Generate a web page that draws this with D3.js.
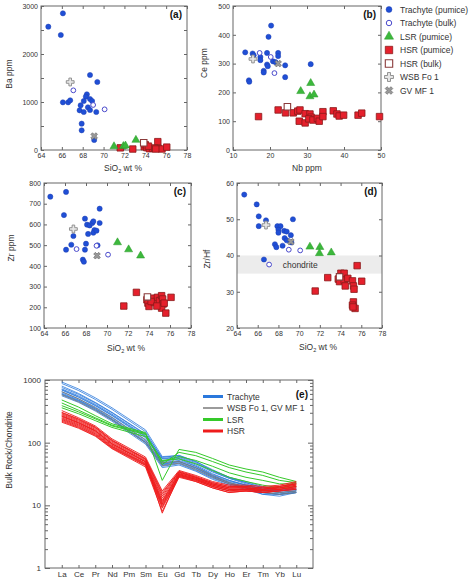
<!DOCTYPE html>
<html><head><meta charset="utf-8">
<script src="https://cdn.jsdelivr.net/npm/d3@7"></script>
<style>body{margin:0;background:#fff}svg{display:block;font-family:"Liberation Sans",Arial,sans-serif}</style>
</head><body><svg id="c" width="474" height="581"></svg>
<script>
// ---------- Panel (a): Ba vs SiO2 ----------
const aTrachytePumice = [[64.7,2569],[66.1,2847],[65.9,2396],[68.7,1563],[69.4,1417],[66.1,993],[66.6,993],[66.8,1035],[68.4,1160],[68.3,1111],[68.1,1021],[68.7,1063],[68.9,1021],[67.8,931],[67.7,826],[68.1,792],[68.5,889],[68.7,833],[69.3,792],[67.9,549],[67.9,410],[69.1,208]];
const aTrachyteBulk = [[67.1,1243],[69.0,938],[70.1,847]];
const aLSR = [[71.0,75],[71.9,80],[72.1,90],[73.1,208]];
const aHSR = [[71.6,45],[72.8,20],[73.9,69],[74.0,110],[74.15,49],[74.4,27],[74.7,35],[75.2,174],[75.25,35],[75.6,21],[76.06,60],[74.9,40],[75.0,20],[74.3,80]];
const aHSRBulk = [[73.85,150]];
const aWSB = [[66.8,1417]];
const aGV = [[69.1,290]];

// ---------- Panel (b): Ce vs Nb ----------
const bTrachytePumice = [[13.3,339],[15.3,335],[15.6,329],[14.3,242],[14.4,237],[17.4,323],[17.4,312],[18.3,275],[18.3,269],[19.2,337],[19.2,297],[19.4,291],[19.6,393],[20.3,432],[20.8,308],[21.5,305],[22.2,337],[22.2,326],[24.1,294],[24.1,253],[31.0,298]];
const bTrachyteBulk = [[17.2,337],[20.2,323],[21.2,267]];
const bLSR = [[28.3,204],[31.0,232],[30.8,186],[31.9,192]];
const bHSR = [[16.9,116],[22.2,139],[24.2,129],[26.3,129],[27.5,135],[28.1,139],[27.9,100],[29.5,126],[29.5,94],[30.8,125],[31.1,114],[30.5,108],[31.6,104],[32.8,110],[33.3,100],[34.3,133],[34.3,116],[37.1,136],[38.1,125],[38.7,118],[39.9,121],[43.8,121],[44.8,128],[49.6,116]];
const bHSRBulk = [[24.7,150]];
const bWSB = [[15.4,316]];
const bGV = [[22.2,300]];

// ---------- Panel (c): Zr vs SiO2 ----------
const cTrachytePumice = [[64.6,734],[66.1,757],[65.9,645],[66.1,478],[66.6,502],[66.8,544],[67.9,628],[68.1,599],[68.35,595],[68.6,607],[68.7,615],[68.8,573],[68.7,560],[69.0,570],[68.2,554],[68.0,507],[67.9,478],[67.7,430],[67.8,420],[69.3,676],[69.3,607],[69.1,499]];
const cTrachyteBulk = [[67.1,481],[69.0,497],[70.1,454]];
const cLSR = [[71.0,513],[72.06,479],[73.2,449]];
const cHSR = [[71.6,206],[72.8,272],[73.8,236],[73.9,220],[74.0,204],[74.3,244],[74.5,223],[74.8,248],[75.0,232],[75.2,256],[75.3,240],[75.35,216],[75.2,196],[75.45,220],[75.6,172],[76.1,248],[74.2,228],[74.75,206]];
const cHSRBulk = [[73.85,250]];
const cWSB = [[66.8,578]];
const cGV = [[69.05,449]];

// ---------- Panel (d): Zr/Hf vs SiO2 ----------
const dTrachytePumice = [[64.7,56.8],[65.9,54.1],[66.1,50.8],[66.1,48.1],[66.8,49.7],[67.9,48.1],[68.2,48.1],[68.0,47.1],[68.0,46.3],[68.55,46.8],[68.8,46.6],[69.2,45.6],[69.4,50.0],[68.6,44.8],[68.8,44.2],[69.25,43.6],[67.66,43.1],[67.8,42.3],[68.4,42.7],[66.6,38.9]];
const dTrachyteBulk = [[67.1,37.5],[69.0,41.6],[70.1,41.4]];
const dLSR = [[71.04,42.4],[72.0,42.3],[71.96,40.6],[73.1,40.8]];
const dHSR = [[71.55,30.2],[72.76,33.9],[73.78,33.5],[74.03,35.1],[74.35,35.1],[73.9,32.8],[74.35,33.2],[74.7,33.7],[74.45,31.6],[75.15,33.0],[75.24,31.6],[75.3,30.7],[75.6,37.2],[76.04,32.9],[75.24,27.2],[75.15,26.3],[75.4,25.4],[75.2,25.8]];
const dHSRBulk = [[73.9,34.1]];
const dWSB = [[66.8,48.4]];
const dGV = [[69.2,43.8]];
const chondriteBand = [35, 40];

// ---------- Panel (e): REE patterns ----------
const reeElements = ["La","Ce","Pr","Nd","Pm","Sm","Eu","Gd","Tb","Dy","Ho","Er","Tm","Yb","Lu"];
const reeTrachyte = [
  [930,720,520,360,null,160,60,62,50,36,28,24,20,18,18],
  [880,680,490,340,null,150,55,58,46,34,27,23,19,17,18],
  [800,610,440,305,null,138,58,63,50,37,28,23,19,17,18],
  [760,590,430,300,null,135,52,56,44,32,25,21,18,16,17],
  [720,560,410,285,null,128,48,52,42,30,24,21,17,16,17],
  [700,540,395,275,null,125,56,60,48,35,27,22,18,17,19],
  [690,530,390,270,null,120,50,55,42,31,25,21,18,17,18],
  [650,500,370,255,null,112,45,50,40,29,23,20,16,15,17],
  [620,480,350,240,null,105,44,48,38,28,22,19,16,15,16],
  [600,470,345,235,null,102,46,50,39,29,23,19,16,15,16],
  [590,460,335,230,null,100,42,46,36,27,22,19,15,15,16],
  [560,440,320,220,null,95,40,44,35,26,21,18,15,14,16]
];
const reeGrey = [
  [650,500,360,250,null,110,48,50,40,30,23,20,17,16,17],
  [580,450,330,230,null,100,43,47,37,28,22,19,16,15,16]
];
const reeLSR = [
  [480,370,270,200,null,145,25,78,70,56,44,38,34,28,24],
  [430,330,250,190,null,140,45,70,62,50,40,34,30,25,23],
  [390,310,240,185,null,135,50,60,52,42,33,28,25,22,22],
  [360,290,225,175,null,125,52,55,46,36,28,24,21,19,20]
];
const reeHSR = [
  [325,250,185,115,null,59,17,36,30,24,21,21,20,21,24],
  [305,240,178,110,null,56,15,35,29,23,20,20,19,20,23],
  [300,235,175,108,null,55,16,34,28,22,19,19,18,20,22],
  [290,228,170,105,null,54,14,34,28,23,20,20,19,20,22],
  [280,220,163,101,null,52,13,33,28,22,19,19,18,19,22],
  [270,212,157,97,null,50,12,32,27,22,19,19,18,19,21],
  [265,208,155,96,null,50,7.5,31,26,21,18,18,17,18,20],
  [260,205,152,94,null,49,11.5,32,27,21,18,18,18,19,21],
  [250,198,147,91,null,47,11,31,26,21,18,18,17,18,20],
  [242,192,142,88,null,46,10.5,30,26,20,17,18,17,18,20],
  [235,186,138,86,null,45,10,30,25,20,17,17,17,18,19],
  [228,180,134,84,null,44,9.5,29,25,20,17,17,16,17,19],
  [220,175,130,82,null,43,9,29,24,19,16,17,16,17,18],
  [212,170,127,80,null,41,8,28,24,19,16,17,16,17,18]
];
const legendScatter = ["Trachyte (pumice)","Trachyte (bulk)","LSR (pumice)","HSR (pumice)","HSR (bulk)","WSB Fo 1","GV MF 1"];
const legendLines = ["Trachyte","WSB Fo 1, GV MF 1","LSR","HSR"];

// ---------- styles ----------
const FRAME = "#666", TXT = "#333";
const styles = {
  tp: {type: d3.symbolCircle, size: 21, fill: "#1f4fd6", stroke: "#1f3fb0", sw: 0.5},
  tb: {type: d3.symbolCircle, size: 18, fill: "#fff", stroke: "#4a4acc", sw: 1},
  lsr:{type: d3.symbolTriangle, size: 28, fill: "#3cb83c", stroke: "#2a9a2a", sw: 0.5},
  hsr:{type: d3.symbolSquare, size: 42, fill: "#e5202c", stroke: "#8a1a1a", sw: 0.8},
  hb: {type: d3.symbolSquare, size: 42, fill: "#fff", stroke: "#8a3a3a", sw: 1.1},
  wsb:{type: d3.symbolCross, size: 34, fill: "#e6e6e6", stroke: "#888", sw: 0.9},
  gv: {type: d3.symbolCross, size: 28, fill: "#999", stroke: "#666", sw: 0.6, rot: 45}
};

const svg = d3.select("#c");

function sio2Label(g, x, y){
  const t = g.append("text").attr("x", x).attr("y", y).attr("text-anchor","middle")
    .attr("font-size", 8.5).attr("fill", TXT);
  t.append("tspan").text("SiO");
  t.append("tspan").text("2").attr("font-size", 5.5).attr("dy", 2);
  t.append("tspan").text(" wt %").attr("dy", -2);
}

function drawSymbols(g, data, x, y, st){
  const sym = d3.symbol().type(st.type).size(st.size);
  g.selectAll(null).data(data).enter().append("path")
    .attr("d", sym)
    .attr("transform", d => `translate(${x(d[0])},${y(d[1])})` + (st.rot ? ` rotate(${st.rot})` : ""))
    .attr("fill", st.fill).attr("stroke", st.stroke).attr("stroke-width", st.sw);
}

function scatterPanel(o){
  const g = svg.append("g");
  const x = d3.scaleLinear().domain(o.xd).range([o.L, o.R]);
  const y = d3.scaleLinear().domain(o.yd).range([o.B, o.T]);
  if (o.band){
    g.append("rect").attr("x", o.L).attr("width", o.R - o.L)
      .attr("y", y(o.band[1])).attr("height", y(o.band[0]) - y(o.band[1])).attr("fill", "#ececec");
    g.append("text").attr("x", x(70.1)).attr("y", (y(o.band[0]) + y(o.band[1]))/2 + 3)
      .attr("text-anchor","middle").attr("font-size", 8.5).attr("fill", TXT).text("chondrite");
  }
  const fmtY = o.yLabelEvery ? (d => d % o.yLabelEvery === 0 ? d : "") : (d => d);
  const ax = (axis, tr, vals, fmt) => {
    const a = g.append("g").attr("transform", tr)
      .call(axis.tickValues(vals).tickSizeInner(-3).tickSizeOuter(0).tickPadding(3).tickFormat(fmt));
    a.select(".domain").remove();
    a.selectAll("line").attr("stroke", FRAME);
    a.selectAll("text").attr("font-size", 7).attr("fill", TXT).attr("font-family", "Liberation Sans, Arial, sans-serif");
  };
  ax(d3.axisBottom(x), `translate(0,${o.B})`, o.xt, d => d);
  ax(d3.axisTop(x), `translate(0,${o.T})`, o.xt, () => "");
  ax(d3.axisLeft(y), `translate(${o.L},0)`, o.yt, fmtY);
  ax(d3.axisRight(y), `translate(${o.R},0)`, o.yt, () => "");
  g.append("rect").attr("x", o.L).attr("y", o.T).attr("width", o.R - o.L).attr("height", o.B - o.T)
    .attr("fill", "none").attr("stroke", FRAME).attr("stroke-width", 1);
  const d = o.data;
  drawSymbols(g, d.hsr, x, y, styles.hsr);
  drawSymbols(g, d.hb, x, y, styles.hb);
  drawSymbols(g, d.lsr, x, y, styles.lsr);
  drawSymbols(g, d.tp, x, y, styles.tp);
  drawSymbols(g, d.tb, x, y, styles.tb);
  drawSymbols(g, d.wsb, x, y, styles.wsb);
  drawSymbols(g, d.gv, x, y, styles.gv);
  g.append("text").attr("x", o.R - 5).attr("y", o.T + 12).attr("text-anchor","end")
    .attr("font-size", 10).attr("font-weight","bold").attr("fill", "#111").text(o.tag);
  g.append("text").attr("transform", `translate(${o.ytX},${o.ytY}) rotate(-90)`).attr("text-anchor","middle")
    .attr("font-size", 8.5).attr("fill", TXT).text(o.ytitle);
  if (o.xtitle === "SiO2") sio2Label(g, o.xtX, o.xtY);
  else g.append("text").attr("x", o.xtX).attr("y", o.xtY).attr("text-anchor","middle")
    .attr("font-size", 8.5).attr("fill", TXT).text(o.xtitle);
}

const siTicks = d3.range(64, 79, 2);
scatterPanel({L:41, R:187, T:6, B:150, xd:[64,78], yd:[0,3000], xt:siTicks, yt:d3.range(0,3001,500), yLabelEvery:1000,
  tag:"(a)", ytitle:"Ba ppm", ytX:12, ytY:74, xtitle:"SiO2", xtX:123, xtY:171,
  data:{tp:aTrachytePumice, tb:aTrachyteBulk, lsr:aLSR, hsr:aHSR, hb:aHSRBulk, wsb:aWSB, gv:aGV}});
scatterPanel({L:233, R:381, T:6, B:150, xd:[10,50], yd:[0,500], xt:d3.range(10,51,10), yt:d3.range(0,501,100),
  tag:"(b)", ytitle:"Ce ppm", ytX:207, ytY:63, xtitle:"Nb ppm", xtX:307, xtY:171,
  data:{tp:bTrachytePumice, tb:bTrachyteBulk, lsr:bLSR, hsr:bHSR, hb:bHSRBulk, wsb:bWSB, gv:bGV}});
scatterPanel({L:44, R:191, T:183, B:328, xd:[64,78], yd:[100,800], xt:siTicks, yt:d3.range(100,801,100),
  tag:"(c)", ytitle:"Zr ppm", ytX:14, ytY:248, xtitle:"SiO2", xtX:126, xtY:351,
  data:{tp:cTrachytePumice, tb:cTrachyteBulk, lsr:cLSR, hsr:cHSR, hb:cHSRBulk, wsb:cWSB, gv:cGV}});
scatterPanel({L:237, R:382, T:183, B:328, xd:[64,78], yd:[20,60], xt:siTicks, yt:d3.range(20,61,10), band:chondriteBand,
  tag:"(d)", ytitle:"Zr/Hf", ytX:210, ytY:259, xtitle:"SiO2", xtX:318, xtY:350,
  data:{tp:dTrachytePumice, tb:dTrachyteBulk, lsr:dLSR, hsr:dHSR, hb:dHSRBulk, wsb:dWSB, gv:dGV}});

// legend for scatter panels
{
  const lg = svg.append("g");
  const keys = ["tp","tb","lsr","hsr","hb","wsb","gv"];
  legendScatter.forEach((name, i) => {
    const yy = 9.5 + i * 13.5, st = styles[keys[i]];
    lg.append("path").attr("d", d3.symbol().type(st.type).size(st.size * 1.3)())
      .attr("transform", `translate(389,${yy})` + (st.rot ? ` rotate(${st.rot})` : ""))
      .attr("fill", st.fill).attr("stroke", st.stroke).attr("stroke-width", st.sw);
    lg.append("text").attr("x", 400).attr("y", yy + 3).attr("font-size", 8.5).attr("fill", TXT).text(name);
  });
}

// ---------- Panel (e) ----------
{
  const L = 45, R = 313, T = 380, B = 568;
  const g = svg.append("g");
  const x = d3.scalePoint().domain(reeElements).range([L, R]).padding(1);
  const y = d3.scaleLog().domain([1, 1000]).range([B, T]);
  const minor = [];
  [1,10,100].forEach(dec => { for (let k = 2; k <= 9; k++) minor.push(dec * k); });
  const setText = a => a.selectAll("text").attr("font-size", 8).attr("fill", TXT).attr("font-family","Liberation Sans, Arial, sans-serif");
  let a = g.append("g").attr("transform", `translate(${L},0)`).call(d3.axisLeft(y).tickValues([1,10,100,1000]).tickFormat(d3.format("d")).tickSizeInner(-5).tickSizeOuter(0).tickPadding(4));
  a.select(".domain").remove(); a.selectAll("line").attr("stroke", FRAME); setText(a);
  a = g.append("g").attr("transform", `translate(${L},0)`).call(d3.axisLeft(y).tickValues(minor).tickFormat("").tickSizeInner(-3).tickSizeOuter(0));
  a.select(".domain").remove(); a.selectAll("line").attr("stroke", FRAME);
  a = g.append("g").attr("transform", `translate(${R},0)`).call(d3.axisRight(y).tickValues([1,10,100,1000]).tickFormat("").tickSizeInner(-5).tickSizeOuter(0));
  a.select(".domain").remove(); a.selectAll("line").attr("stroke", FRAME);
  a = g.append("g").attr("transform", `translate(${R},0)`).call(d3.axisRight(y).tickValues(minor).tickFormat("").tickSizeInner(-3).tickSizeOuter(0));
  a.select(".domain").remove(); a.selectAll("line").attr("stroke", FRAME);
  a = g.append("g").attr("transform", `translate(0,${B})`).call(d3.axisBottom(x).tickSizeInner(-3).tickSizeOuter(0).tickPadding(3));
  a.select(".domain").remove(); a.selectAll("line").attr("stroke", FRAME); setText(a);
  a = g.append("g").attr("transform", `translate(0,${T})`).call(d3.axisTop(x).tickFormat("").tickSizeInner(-3).tickSizeOuter(0));
  a.select(".domain").remove(); a.selectAll("line").attr("stroke", FRAME);

  const line = d3.line().x(d => x(d[0])).y(d => y(d[1]));
  const toPts = arr => reeElements.map((e, i) => [e, arr[i]]).filter(p => p[1] != null);
  const groups = [
    [reeTrachyte, "#2a78dc", 0.8],
    [reeGrey, "#7a7a7a", 0.9],
    [reeLSR, "#35c92a", 1.0],
    [reeHSR, "#ee1c1c", 0.9]
  ];
  groups.forEach(([set, col, w]) => {
    g.append("g").selectAll("path").data(set).enter().append("path")
      .attr("d", d => line(toPts(d))).attr("fill","none").attr("stroke", col).attr("stroke-width", w)
      .attr("stroke-linejoin","round");
  });
  g.append("rect").attr("x", L).attr("y", T).attr("width", R - L).attr("height", B - T)
    .attr("fill","none").attr("stroke", FRAME).attr("stroke-width", 1);

  const lcol = ["#2a78dc","#7a7a7a","#35c92a","#ee1c1c"];
  legendLines.forEach((name, i) => {
    const yy = 396.5 + i * 11.5;
    g.append("line").attr("x1", 203).attr("x2", 223).attr("y1", yy).attr("y2", yy)
      .attr("stroke", lcol[i]).attr("stroke-width", i === 1 ? 1.5 : 3);
    g.append("text").attr("x", 227).attr("y", yy + 3).attr("font-size", 8.5).attr("fill", TXT).text(name);
  });
  g.append("text").attr("x", R - 5).attr("y", T + 18).attr("text-anchor","end")
    .attr("font-size", 10).attr("font-weight","bold").attr("fill","#111").text("(e)");
  g.append("text").attr("transform", `translate(12,450) rotate(-90)`).attr("text-anchor","middle")
    .attr("font-size", 8.5).attr("fill", TXT).text("Bulk Rock/Chondrite");
}
</script></body></html>
